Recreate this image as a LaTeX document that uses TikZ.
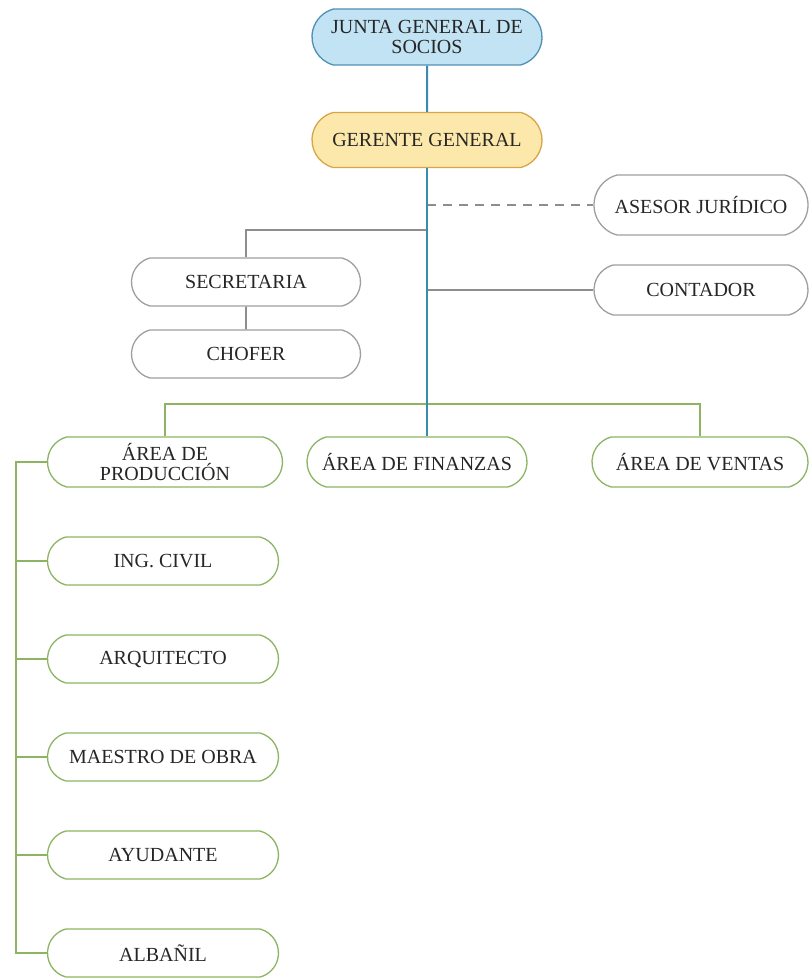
\documentclass[tikz,border=0pt]{standalone}
\usepackage{fontspec}
\setmainfont{Liberation Serif}
\usetikzlibrary{shapes.misc}
\definecolor{trunkblue}{HTML}{3A8BB0}
\definecolor{juntafill}{HTML}{C2E3F4}
\definecolor{juntaedge}{HTML}{4F90B5}
\definecolor{gerfill}{HTML}{FCE8AA}
\definecolor{geredge}{HTML}{D9A548}
\definecolor{staffgray}{HTML}{8E8E8E}
\definecolor{areagreen}{HTML}{8DB463}
\definecolor{inktext}{HTML}{262626}
\begin{document}
\begin{tikzpicture}[x=1pt,y=-1pt,
  orgbox/.style={rounded rectangle, rounded rectangle arc length=150, draw,
    line width=1.3pt, inner sep=0pt, align=center, text=inktext,
    font=\fontsize{20}{20.5}\selectfont},
  topbox/.style={orgbox, fill=juntafill, draw=juntaedge, minimum width=230pt, minimum height=56pt},
  gerbox/.style={orgbox, fill=gerfill, draw=geredge, minimum width=230pt, minimum height=55pt},
  staffbox/.style={orgbox, draw=staffgray!85, fill=white},
  areabox/.style={orgbox, draw=areagreen, fill=white, minimum height=50pt},
  jobbox/.style={orgbox, draw=areagreen, fill=white, minimum width=231pt, minimum height=48pt},
  trunk/.style={draw=trunkblue, line width=2pt},
  staffline/.style={draw=staffgray, line width=1.8pt},
  arealine/.style={draw=areagreen, line width=2pt}]
\useasboundingbox[fill=white] (0,0) rectangle (811,979);

% top of the hierarchy
\node[topbox] (junta) at (427,37) {JUNTA GENERAL DE\\SOCIOS};
\node[gerbox] (ger) at (427,140) {GERENTE GENERAL};

% staff positions
\node[staffbox, minimum width=214pt, minimum height=60pt] (ases) at (701,205) {ASESOR JURÍDICO};
\node[staffbox, minimum width=229pt, minimum height=48pt] (sec) at (246,282) {SECRETARIA};
\node[staffbox, minimum width=229pt, minimum height=48pt] (chof) at (246,354) {CHOFER};
\node[staffbox, minimum width=214pt, minimum height=50pt] (cont) at (701,290) {CONTADOR};

% areas
\node[areabox, minimum width=235pt] (prod) at (165,462) {ÁREA DE\\PRODUCCIÓN};
\node[areabox, minimum width=220pt] (fin) at (417,462) {ÁREA DE FINANZAS};
\node[areabox, minimum width=216pt] (ven) at (700,462) {ÁREA DE VENTAS};

% production staff
\node[jobbox] (ing) at (163,561) {ING. CIVIL};
\node[jobbox] (arq) at (163,659) {ARQUITECTO};
\node[jobbox] (mae) at (163,757) {MAESTRO DE OBRA};
\node[jobbox] (ayu) at (163,855) {AYUDANTE};
\node[jobbox] (alb) at (163,953) {ALBAÑIL};

% junction points
\coordinate (secjoin) at (427,230);
\coordinate (areabar) at (427,404);
\coordinate (rail) at (16,462);

% staff connectors
\draw[staffline, dashed, dash pattern=on 9pt off 7pt] (ger.south |- ases.west) -- (ases.west);
\draw[staffline] (secjoin) -- (secjoin -| sec.north) -- (sec.north);
\draw[staffline] (sec) -- (chof);
\draw[staffline] (ger.south |- cont.west) -- (cont.west);

% area connectors
\draw[arealine] (prod.north) -- (prod.north |- areabar) -- (ven.north |- areabar) -- (ven.north);
\draw[arealine] (prod.west) -- (rail) -- (rail |- alb.west) -- (alb.west);
\foreach \j in {ing,arq,mae,ayu}
  \draw[arealine] (rail |- \j.west) -- (\j.west);

% main line of command
\draw[trunk] (junta) -- (ger);
\draw[trunk] (ger.south) -- (ger.south |- fin.north);
\end{tikzpicture}
\end{document}
